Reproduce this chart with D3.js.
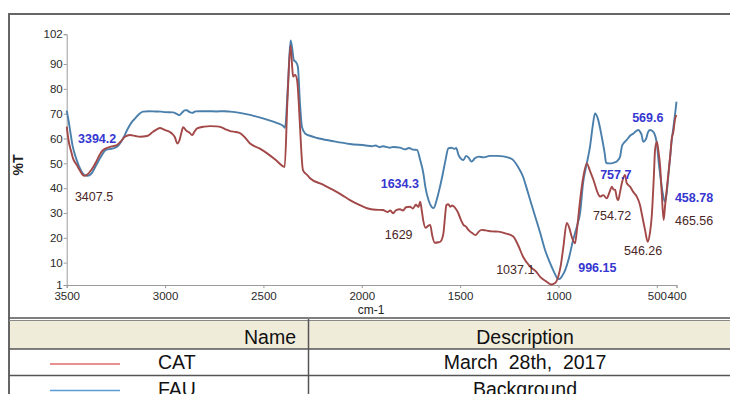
<!DOCTYPE html>
<html>
<head>
<meta charset="utf-8">
<script src="https://cdn.jsdelivr.net/npm/d3@7/dist/d3.min.js"></script>
<style>
  html, body { margin: 0; padding: 0; background: #fff; }
  svg { display: block; font-family: "Liberation Sans", Arial, sans-serif; }
</style>
</head>
<body>
<svg id="chart" width="730" height="394"></svg>
<script>
// FT-IR spectra: wavenumber (cm-1) and transmittance (%T)
const catWavenumber = [3500,3490,3478,3468,3450,3432,3420,3407.5,3395,3382,3365,3346,3330,3315,3280,3260,3244,3225,3204,3178,3150,3127,3092,3061,3040,3026,3010,3000,2980,2965,2950,2938,2928,2918,2908,2893,2878,2862,2850,2837,2800,2771,2740,2720,2690,2670,2640,2619,2595,2568,2520,2481,2440,2400,2392,2378,2362,2353,2349,2339,2329,2320,2314,2299,2280,2263,2200,2146,2100,2060,2010,1973,1930,1892,1870,1855,1841,1825,1806,1790,1775,1755,1740,1725,1712,1703,1695,1688,1675,1667,1652,1642,1629,1610,1601,1590,1585,1575,1570,1560,1550,1540,1524,1509,1495,1483,1470,1458,1440,1422,1405,1391,1370,1340,1305,1270,1230,1205,1180,1144,1115,1093,1065,1037.1,1017,1001,988,975,958,945,933,916,905,890,875,856,840,822,800,789,772,754.72,740,729,720,712,703,696,688,678,662,653,636,620,602,585,577,560,546.26,535,526,515,509,500,492,483,475,465.56,458,450,441,432,424,416,407,400];
const catTransmittance = [64.8,59,55,52,49.5,47,45.5,45.0,45.5,46.6,48.5,51.3,53.8,55.4,56.6,57,57.4,58.8,60.7,61.4,61,60.7,61,62.7,63.8,64.2,63.8,63.4,62.8,62,60.5,58,59,62,64.5,63.2,62.5,61.4,62.8,64.1,64.8,65,64.9,64.7,63.6,63,62.6,62.2,60.5,58,56,54,51.5,48.8,48.5,75,97.5,88,84.9,85.6,83.6,74,64.8,47.3,45.5,44,41.5,39.3,37.2,35.2,33.2,31.9,31.3,31.2,30.4,31,29.9,31.2,31.5,31,32.3,32.5,31.8,33.3,32.4,34.5,31,27.2,24,24.5,25.2,21,18.0,18.2,18.4,20,21.8,30,33.2,33.5,32.5,33,31.9,29.9,27,25.2,24.5,23.2,22,21.1,22.5,23.2,23,22.6,22.5,21.8,20.5,17,12.4,8.4,6.5,4.3,2.6,1.2,1.8,4.4,9,16.4,26,24,20.5,17.8,24,35.2,44,50,47,43.3,38,36.6,37.2,35.9,38.5,40.6,39.5,39.3,36,35.2,38,42,45.3,42,40.6,38.5,36.6,33,29.9,23.2,18.4,22,28.5,45,55.4,58.7,55,48.6,38,27.2,33,39.3,46,53,60,62.7,68,69.5];

const fauWavenumber = [3500,3490,3483,3470,3449,3430,3410,3394.2,3375,3355,3331,3300,3265,3240,3229,3210,3193,3170,3153,3130,3112,3080,3050,3020,3000,2960,2940,2928,2915,2900,2890,2875,2862,2845,2822,2780,2740,2700,2669,2620,2568,2520,2470,2430,2399,2390,2375,2362,2355,2345,2335,2325,2314,2304,2288,2260,2227,2150,2060,1980,1950,1930,1910,1892,1860,1840,1806,1780,1760,1740,1719,1703,1687,1677,1660,1645,1634.3,1620,1610,1590,1575,1560,1545,1530,1520,1508,1495,1483,1470,1457,1442,1425,1407,1380,1350,1312,1280,1250,1230,1205,1180,1160,1144,1120,1093,1070,1043,1020,1005,996.15,980,966,948,926,905,890,875,856,840,826,814,800,780,765,757.7,745,729,715,704,695,687,677,670,653,635,619,605,594,585,577,569.6,555,545,535,518,508,500,490,484,470,458.78,449,442,433,424,415,407,400];
const fauTransmittance = [71.2,67,63.4,57,51.3,47.5,45.3,45.0,45.8,48.5,52,55.4,56,57,58,60.5,63.4,66.5,68,70,70.8,71.0,70.9,70.8,70.6,70.5,69.9,69.4,70.3,71.3,71.4,70.6,70.3,70.9,71.0,71.0,70.9,71.0,70.8,70.3,69.5,68.5,67.3,66.2,65,64.3,82,99.5,97,91.5,90.8,89,74,64.6,62,61,60.2,59,57.8,57.2,56.9,57.2,56.5,56.9,56.3,56.6,56.3,55.6,56.2,55.5,55.4,51.3,46,40.6,35,32.5,32,35,38,45,51,56,56.3,55.8,56.2,53.3,51.8,51.3,53,52.3,50.7,52,52.7,52.4,53.0,53,52.8,52.2,51.3,48.5,44.6,39.5,35.2,29,22,15.5,9.9,5.8,3.6,3.4,4.8,7,11.5,19,25,30,42,50,56.5,65,70.1,68,60.7,54,50.2,50.0,50,50.4,50.7,51.5,52.7,57,58,59.4,61.2,62,63,63.4,62.7,61.4,58.7,59.8,62.5,63.4,62.7,61,58,50,46,38,34.5,38.5,44.6,52,59.4,65,70,74.8];

// axis ticks
const xTickValues = [3500, 3000, 2500, 2000, 1500, 1000, 500, 400];
const yTickValues = [1, 10, 20, 30, 40, 50, 60, 70, 80, 90, 102];

// peak annotations: text, series, wavenumber
const peakText = ["3394.2", "3407.5", "1634.3", "1629", "1037.1", "996.15", "754.72", "757.7", "569.6", "546.26", "458.78", "465.56"];
const peakSeries = ["FAU", "CAT", "FAU", "CAT", "CAT", "FAU", "CAT", "FAU", "FAU", "CAT", "FAU", "CAT"];
const peakWavenumber = [3394.2, 3407.5, 1634.3, 1629, 1037.1, 996.15, 754.72, 757.7, 569.6, 546.26, 458.78, 465.56];

// legend table
const legendNames = ["CAT", "FAU"];
const legendDescriptions = ["March  28th,  2017", "Background"];

const seriesColor = { CAT: "#a34848", FAU: "#4a7fab" };
const labelColor = { CAT: "#4a2626", FAU: "#3636d0" };
const legendLineColor = { CAT: "#e06a6a", FAU: "#5b9bd5" };

// label offsets from the peak point (left edge / baseline)
const labelOffset = {
  "3394.2": [-9.5, -33], "3407.5": [-10, 25], "1634.3": [-53, -20], "1629": [-50, -4],
  "1037.1": [-55, -10.5], "996.15": [19, -7], "754.72": [-13.7, 22], "757.7": [-6, 16],
  "569.6": [-11, -20], "546.26": [-23.7, 13], "458.78": [10, 0], "465.56": [11.4, 5]
};

const svg = d3.select("#chart");

// outer frame
svg.append("rect").attr("x", 9).attr("y", 14).attr("width", 760).attr("height", 420)
  .attr("fill", "none").attr("stroke", "#666").attr("stroke-width", 2);

const x = d3.scaleLinear().domain([3500, 400]).range([66.7, 676.5]);
const y = d3.scaleLinear().domain([1, 102]).range([285, 34.2]);

const axisColor = "#9a9a9a";
const gx = svg.append("g").attr("transform", "translate(0,285)")
  .call(d3.axisBottom(x).tickValues(xTickValues).tickSize(3).tickSizeOuter(3).tickFormat(d3.format("d")));
const gy = svg.append("g").attr("transform", "translate(66.7,0)")
  .call(d3.axisLeft(y).tickValues(yTickValues).tickSize(3).tickSizeOuter(3).tickFormat(d3.format("d")));
[gx, gy].forEach(g => {
  g.selectAll("path, line").attr("stroke", axisColor);
  g.selectAll("text").attr("fill", "#2a2a2a").style("font-size", "11.5px")
    .style("font-family", "'Liberation Sans', Arial, sans-serif");
});
gx.selectAll("text").attr("dy", "0.85em").attr("y", 5);
gy.selectAll("text").attr("x", -4);

// axis titles
svg.append("text").attr("transform", "translate(23,165) rotate(-90)")
  .attr("text-anchor", "middle").attr("font-size", 14).attr("font-weight", "bold")
  .attr("fill", "#222").text("%T");
svg.append("text").attr("x", 371).attr("y", 314).attr("text-anchor", "middle")
  .attr("font-size", 12).attr("fill", "#222").text("cm-1");

// spectra
const line = d3.line().x(d => x(d[0])).y(d => y(d[1])).curve(d3.curveMonotoneX);
const catData = catWavenumber.map((w, i) => [w, catTransmittance[i]]);
const fauData = fauWavenumber.map((w, i) => [w, fauTransmittance[i]]);
svg.append("path").datum(fauData).attr("d", line).attr("fill", "none")
  .attr("stroke", seriesColor.FAU).attr("stroke-width", 1.9);
svg.append("path").datum(catData).attr("d", line).attr("fill", "none")
  .attr("stroke", seriesColor.CAT).attr("stroke-width", 1.9);

// peak labels
peakText.forEach((t, i) => {
  const s = peakSeries[i];
  const w = peakWavenumber[i];
  const wl = s === "CAT" ? catWavenumber : fauWavenumber;
  const tl = s === "CAT" ? catTransmittance : fauTransmittance;
  const j = wl.indexOf(w);
  const off = labelOffset[t];
  svg.append("text")
    .attr("x", x(w) + off[0]).attr("y", y(tl[j]) + off[1])
    .attr("font-size", 12.5)
    .attr("font-weight", s === "FAU" ? "bold" : "normal")
    .attr("fill", labelColor[s]).text(t);
});

// legend table
const tbl = svg.append("g");
tbl.append("rect").attr("x", 10).attr("y", 320).attr("width", 730).attr("height", 29).attr("fill", "#efecda");
tbl.append("line").attr("x1", 9).attr("x2", 730).attr("y1", 318).attr("y2", 318).attr("stroke", "#555").attr("stroke-width", 1.5);
tbl.append("line").attr("x1", 9).attr("x2", 730).attr("y1", 320.5).attr("y2", 320.5).attr("stroke", "#888").attr("stroke-width", 1);
tbl.append("line").attr("x1", 9).attr("x2", 730).attr("y1", 349).attr("y2", 349).attr("stroke", "#555").attr("stroke-width", 1.5);
tbl.append("line").attr("x1", 9).attr("x2", 730).attr("y1", 375.5).attr("y2", 375.5).attr("stroke", "#555").attr("stroke-width", 1.5);
tbl.append("line").attr("x1", 308.5).attr("x2", 308.5).attr("y1", 319).attr("y2", 394).attr("stroke", "#555").attr("stroke-width", 1.5);

tbl.append("text").attr("x", 296).attr("y", 344).attr("text-anchor", "end")
  .attr("font-size", 19.5).attr("fill", "#111").text("Name");
tbl.append("text").attr("x", 525).attr("y", 344).attr("text-anchor", "middle")
  .attr("font-size", 19.5).attr("fill", "#111").text("Description");

legendNames.forEach((n, i) => {
  const base = 369 + i * 26.5;
  tbl.append("line").attr("x1", 50).attr("x2", 120).attr("y1", base - 5).attr("y2", base - 5)
    .attr("stroke", legendLineColor[n]).attr("stroke-width", 1.5);
  tbl.append("text").attr("x", 158).attr("y", base).attr("font-size", 19.5).attr("fill", "#111").text(n);
  tbl.append("text").attr("x", 525).attr("y", base).attr("text-anchor", "middle")
    .attr("font-size", 19.5).attr("fill", "#111").style("white-space", "pre").text(legendDescriptions[i]);
});
</script>
</body>
</html>
